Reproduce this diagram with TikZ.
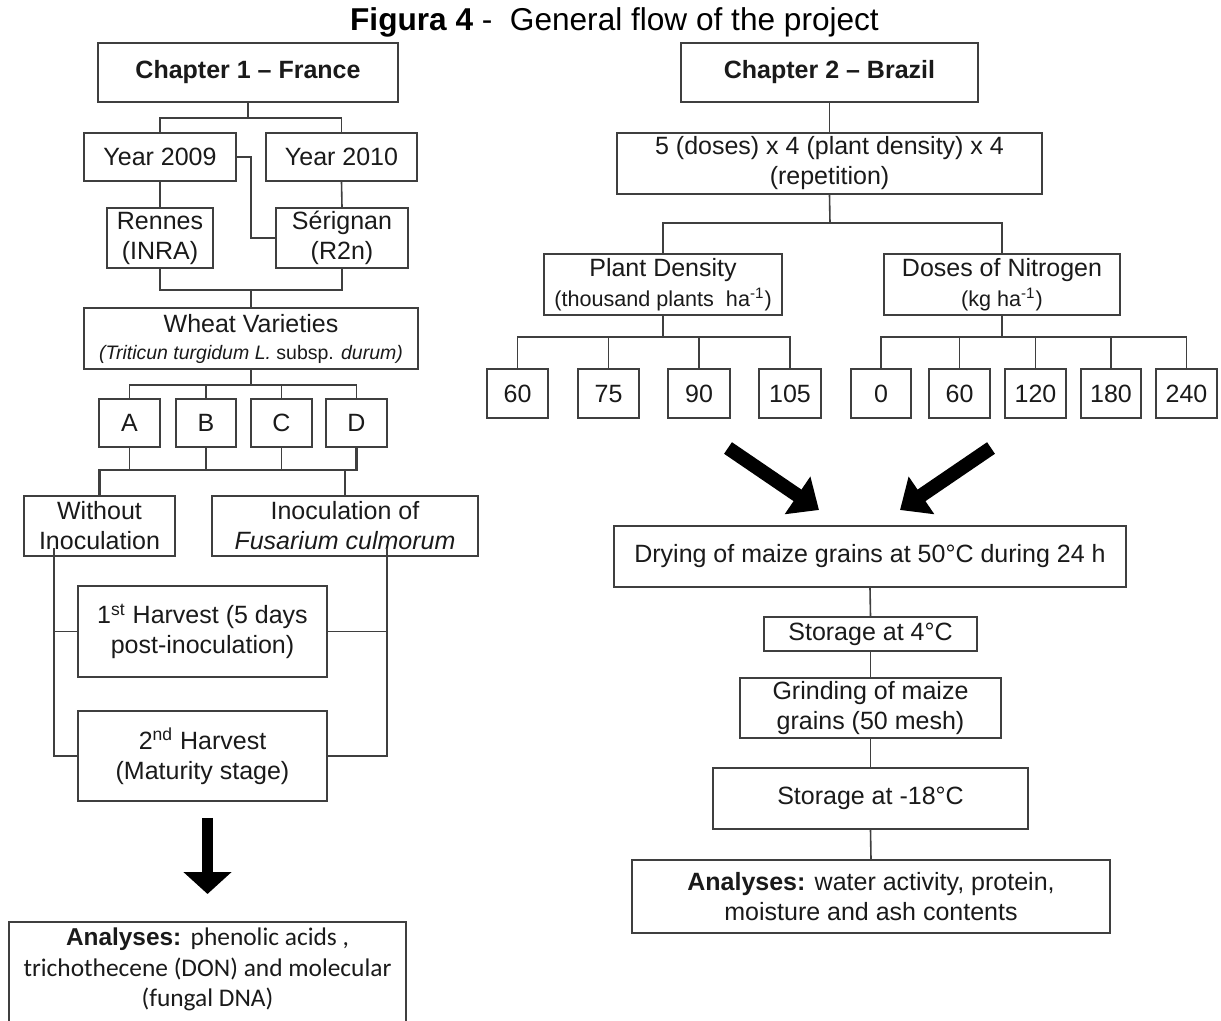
\documentclass[tikz,border=0pt]{standalone}
\usepackage{fontspec}
\setmainfont{Liberation Sans}
\newfontfamily\calib{Carlito}
\usetikzlibrary{arrows.meta,calc}
\definecolor{bordc}{HTML}{3F3F3F}
\definecolor{txtc}{HTML}{1A1A1A}
\newcommand\mkbox[7][]{%
 \pgfmathsetmacro\bcx{(#3+#5)/2}%
 \pgfmathsetmacro\bcy{(#4+#6)/2}%
 \pgfmathsetmacro\bw{(#5-#3)*0.5}%
 \pgfmathsetmacro\bh{(#6-#4)*0.5}%
 \node[fbox,minimum width=\bw pt,minimum height=\bh pt,#1] (#2) at (\bcx,\bcy) {#7};}
\tikzset{
 fbox/.style={draw=bordc, line width=0.8pt, fill=white, text=txtc, align=center, inner sep=1pt, font=\fontsize{12.5}{15}\selectfont},
 numbox/.style={text height=9pt, text depth=0pt},
 conn/.style={draw=bordc, line width=0.8pt},
 thickconn/.style={draw=bordc, line width=1.2pt},
 bigarrow/.style={draw=black, line width=7pt, -{Triangle[width=22pt,length=13pt]}}
}
\begin{document}
\begin{tikzpicture}[x=0.5pt,y=-0.5pt]
\clip (0,0) rectangle (1221,1021);
\fill[white] (0,0) rectangle (1221,1021);
% title
\node[anchor=base, text=black, font=\fontsize{15.8}{18}\selectfont] (title) at (614.5,31) {\textbf{Figura 4} -\ \ General flow of the project};
% ---------------- left column
\mkbox{ch1}{98}{43}{398}{102}{\textbf{Chapter 1 -- France}}
\mkbox{y09}{84}{133}{236}{181}{Year 2009}
\mkbox{y10}{266}{133}{417}{181}{Year 2010}
\mkbox{ren}{107}{208}{213}{268}{Rennes\\(INRA)}
\mkbox{ser}{276}{208}{408}{268}{Sérignan\\(R2n)}
\mkbox{wheat}{84}{308}{418}{369}{Wheat Varieties\\[-1.5pt]{\fontsize{9.75}{12}\selectfont\textit{(Triticun turgidum L.} subsp. \textit{durum)}}}
\mkbox[numbox]{va}{99}{399}{160}{447}{A}
\mkbox[numbox]{vb}{176}{399}{236}{447}{B}
\mkbox[numbox]{vc}{251}{399}{312}{447}{C}
\mkbox[numbox]{vd}{326}{399}{387}{447}{D}
\mkbox{wo}{24}{496}{175}{556}{Without\\Inoculation}
\mkbox{ino}{212}{496}{478}{556}{Inoculation of\\\textit{Fusarium culmorum}}
\mkbox{h1}{78}{586}{327}{677}{1\textsuperscript{st} Harvest (5 days\\post-inoculation)}
\mkbox{h2}{78}{711}{327}{801}{2\textsuperscript{nd} Harvest\\(Maturity stage)}
\node[fbox, anchor=north, minimum width=198.5pt, inner ysep=3pt, font=\fontsize{12.7}{15.3}\selectfont] (lanal) at (207.5,921)
 {{\fontsize{12.2}{15.3}\selectfont\bfseries Analyses:} {\calib phenolic acids ,}\\{\calib trichothecene (DON) and molecular}\\{\calib (fungal DNA)}\rule[-13pt]{0pt}{0pt}};
% ---------------- right column
\mkbox{ch2}{681}{43}{978}{102}{\textbf{Chapter 2 -- Brazil}}
\mkbox{dose5}{617}{133}{1042}{194}{5 (doses) x 4 (plant density) x 4\\(repetition)}
\mkbox{pd}{544}{254}{782}{315}{Plant Density\\{\fontsize{10.8}{13}\selectfont(thousand plants\ \ ha\textsuperscript{-1})}}
\mkbox{dn}{884}{254}{1120}{315}{Doses of Nitrogen\\{\fontsize{10.8}{13}\selectfont(kg ha\textsuperscript{-1})}}
\mkbox[numbox]{p60}{487}{369}{548}{418}{60}
\mkbox[numbox]{p75}{578}{369}{639}{418}{75}
\mkbox[numbox]{p90}{668}{369}{730}{418}{90}
\mkbox[numbox]{p105}{759}{369}{821}{418}{105}
\mkbox[numbox]{n0}{851}{369}{911}{418}{0}
\mkbox[numbox]{n60}{929}{369}{990}{418}{60}
\mkbox[numbox]{n120}{1005}{369}{1066}{418}{120}
\mkbox[numbox]{n180}{1081}{369}{1141}{418}{180}
\mkbox[numbox]{n240}{1156}{369}{1217}{418}{240}
\mkbox{dry}{614}{526}{1126}{587}{Drying of maize grains at 50°C during 24 h}
\mkbox{sfour}{764}{617}{977}{651}{Storage at 4°C}
\mkbox{grind}{740}{678}{1001}{738}{Grinding of maize\\grains (50 mesh)}
\mkbox{seight}{713}{768}{1028}{829}{Storage at -18°C}
\mkbox{ranal}{632}{860}{1110}{933}{\textbf{Analyses:} water activity, protein,\\moisture and ash contents}
% ---------------- left connectors
\coordinate (j1) at (248,118);
\draw[conn] (ch1.south) -- (j1);
\draw[conn] (y09.north) |- (j1) -| (y10.north);
\draw[conn] (y09.east) -- ++(14,0) |- (ser.west);
\draw[conn] (y09.south) -- (ren.north);
\draw[conn] (y10.south) -- (ser.north);
\coordinate (j2) at (251,290);
\draw[conn] (ren.south) |- (j2) -| (ser.south);
\draw[conn] (j2) -- (wheat.north);
\coordinate (j3) at (251,385);
\draw[thickconn] (wheat.south) -- (j3);
\draw[conn] (va.north) |- (j3) -| (vd.north);
\draw[conn] (vb.north) -- (vb.north |- j3);
\draw[conn] (vc.north) -- (vc.north |- j3);
\coordinate (j4) at (100,470);
\draw[thickconn] (wo.north) -- (wo.north |- j4) -| (vd.south);
\draw[conn] (va.south) -- (va.south |- j4);
\draw[conn] (vb.south) -- (vb.south |- j4);
\draw[conn] (vc.south) -- (vc.south |- j4);
\draw[thickconn] (ino.north) -- (ino.north |- j4);
\coordinate (wl) at (54,548);
\coordinate (ir) at (387,548);
\draw[conn] (wl) |- (h2.west);
\draw[conn] (wl |- h1.west) -- (h1.west);
\draw[conn] (ir) |- (h2.east);
\draw[conn] (ir |- h1.east) -- (h1.east);
\coordinate (da1) at ($(lanal.north |- h2.south)+(0,16)$);
\coordinate (da2) at ($(lanal.north)+(0,-27)$);
\draw[bigarrow, line width=5.75pt, -{Triangle[width=23.5pt,length=11pt]}] (da1) -- (da2);
% ---------------- right connectors
\draw[conn] (ch2.south) -- (dose5.north);
\coordinate (j5) at (830,223);
\draw[conn] (dose5.south) -- (j5);
\draw[conn] (pd.north) |- (j5) -| (dn.north);
\coordinate (j6) at (663,337);
\draw[thickconn] (pd.south) -- (j6);
\draw[conn] (p60.north) |- (j6) -| (p105.north);
\draw[conn] (p75.north) -- (p75.north |- j6);
\draw[conn] (p90.north) -- (p90.north |- j6);
\coordinate (j7) at (1002,337);
\draw[conn] (dn.south) -- (j7);
\draw[conn] (n0.north) |- (j7) -| (n240.north);
\draw[conn] (n60.north) -- (n60.north |- j7);
\draw[conn] (n120.north) -- (n120.north |- j7);
\draw[conn] (n180.north) -- (n180.north |- j7);
\coordinate (la1) at (728,448);
\coordinate (la2) at (819,510);
\coordinate (ra1) at (991,448);
\coordinate (ra2) at (900,510);
\draw[bigarrow] (la1) -- (la2);
\draw[bigarrow] (ra1) -- (ra2);
\draw[conn] (dry.south) -- (sfour.north);
\draw[conn] (sfour.south) -- (grind.north);
\draw[conn] (grind.south) -- (seight.north);
\draw[conn] (seight.south) -- (ranal.north);
\end{tikzpicture}
\end{document}
